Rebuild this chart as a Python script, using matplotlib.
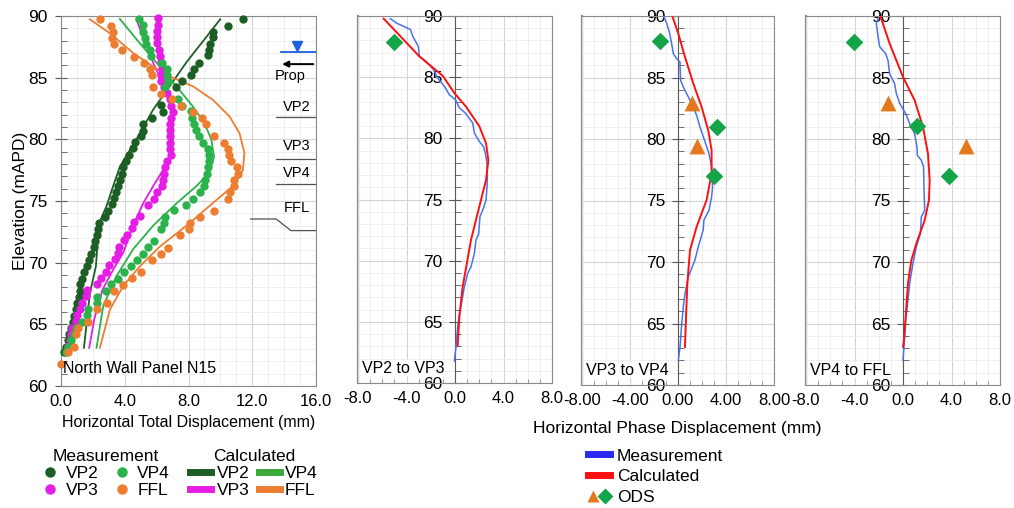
import matplotlib
matplotlib.use('Agg')
import matplotlib.pyplot as plt
from matplotlib.lines import Line2D
from matplotlib.legend_handler import HandlerTuple
from matplotlib.ticker import MultipleLocator, FormatStrFormatter

plt.rcParams['font.family'] = ['Liberation Sans', 'DejaVu Sans']

# ---------------- data: panel 1 (total displacement) ----------------
vp2_meas_x = [11.41, 10.49, 9.55, 9.53, 9.32, 9.28, 9.2, 8.68, 8.32, 8.18, 7.57, 7.2, 6.28, 6.38, 5.74, 5.13,
              5.15, 5.05, 4.65, 4.5, 4.28, 4.05, 3.9, 3.82, 3.7, 3.57, 3.42, 3.32, 3.19, 2.92, 2.73, 2.4,
              2.34, 2.23, 2.13, 2.04, 1.88, 1.73, 1.65, 1.44, 1.31, 1.21, 1.17, 1.1, 1.02, 0.92, 0.83,
              0.73, 0.65, 0.52, 0.46, 0.33, 0.21]
vp2_meas_y = [89.73, 89.2, 88.7, 88.27, 87.76, 87.25, 86.8, 86.2, 85.7, 85.2, 84.7, 84.25, 82.8, 82.25, 81.75,
              81.23, 80.7, 80.23, 79.75, 79.26, 78.75, 78.24, 77.73, 77.2, 76.7, 76.2, 75.73, 75.22, 74.73,
              74.2, 73.7, 73.25, 72.7, 72.25, 71.74, 71.23, 70.74, 70.23, 69.7, 69.25, 68.7, 68.23, 67.7,
              67.2, 66.7, 66.23, 65.7, 65.18, 64.7, 64.18, 63.7, 63.19, 62.75]

vp3_meas_x = [6.11, 6.07, 6.05, 6.03, 6.0, 6.15, 6.22, 6.3, 6.34, 6.26, 6.26, 6.49, 6.68, 6.82, 6.9, 7.03,
              6.9, 6.82, 6.84, 6.84, 6.86, 6.86, 6.93, 6.65, 6.53, 6.45, 6.4, 6.32, 6.05, 5.84, 5.49, 4.94,
              4.55, 4.46, 4.15, 3.94, 3.65, 3.59, 3.38, 3.0, 2.82, 2.5, 2.29, 1.65, 1.54, 1.29, 1.17, 0.98,
              0.94, 0.71, 0.65, 0.54, 0.44]
vp3_meas_y = [89.8, 89.3, 88.8, 88.27, 87.8, 87.25, 86.76, 86.25, 85.74, 85.23, 84.74, 84.23, 83.74, 83.26,
              82.74, 82.23, 81.72, 81.23, 80.72, 80.23, 79.7, 79.21, 78.72, 78.21, 77.73, 77.21, 76.7, 76.19,
              75.7, 75.19, 74.68, 73.8, 73.3, 72.8, 72.28, 71.8, 71.28, 70.77, 70.28, 69.8, 69.28, 68.77,
              68.28, 67.77, 67.26, 66.75, 66.23, 65.75, 65.24, 64.72, 64.2, 63.7, 63.21]

vp4_meas_x = [4.9, 5.15, 5.15, 5.28, 5.32, 5.57, 5.63, 6.36, 6.65, 6.63, 6.7, 6.55, 7.36, 7.6, 8.13, 8.24,
              8.36, 8.45, 8.68, 8.93, 9.24, 9.3, 9.26, 9.2, 9.18, 9.03, 8.95, 8.72, 8.3, 7.82, 7.07, 6.53,
              6.47, 6.3, 5.84, 5.44, 5.15, 4.78, 4.4, 3.98, 3.59, 3.15, 2.82, 2.27, 2.29, 1.69, 1.65, 1.31,
              0.96, 0.79, 0.63, 0.46, 0.33]
vp4_meas_y = [89.76, 89.25, 88.7, 88.25, 87.76, 87.22, 86.74, 86.22, 85.74, 85.22, 84.74, 84.23, 83.25,
              82.74, 82.26, 81.72, 81.23, 80.72, 80.23, 79.72, 79.2, 78.72, 78.21, 77.73, 77.21, 76.7,
              76.21, 75.7, 75.19, 74.7, 74.25, 73.73, 73.2, 72.74, 71.76, 71.25, 70.74, 70.25, 69.71,
              69.23, 68.69, 68.23, 67.7, 67.2, 66.72, 66.23, 65.72, 65.2, 64.72, 64.18, 63.7, 63.19, 62.75]

ffl_meas_x = [2.44, 3.11, 3.25, 3.19, 3.32, 3.8, 4.61, 5.19, 5.57, 5.74, 5.78, 6.26, 6.97, 7.55, 8.28, 8.87,
              9.12, 9.62, 10.24, 10.47, 10.53, 10.66, 11.04, 11.08, 10.87, 10.85, 10.58, 10.47, 9.62, 8.7,
              8.09, 8.01, 7.47, 6.7, 6.28, 5.69, 5.05, 4.48, 3.9, 3.34, 2.86, 2.23, 1.67, 1.06, 0.92, 0.81,
              0.44, 0.0]
ffl_meas_y = [89.76, 89.22, 88.7, 88.25, 87.76, 87.22, 86.68, 86.2, 85.68, 85.2, 84.23, 83.7, 83.23, 82.72,
              82.2, 81.72, 81.23, 80.23, 79.72, 79.2, 78.72, 78.24, 77.73, 77.21, 76.7, 76.21, 75.7, 75.19,
              74.2, 73.73, 73.2, 72.74, 72.25, 71.2, 70.74, 70.25, 69.23, 68.74, 68.2, 67.72, 66.7, 66.21,
              65.2, 64.7, 64.2, 63.2, 62.75, 61.75]

vp2_calc_x = [9.99, 7.9, 5.78, 4.73, 3.7, 3.27, 2.86, 2.44, 2.34, 2.19, 1.81, 1.44]
vp2_calc_y = [89.73, 86.3, 82.4, 80.0, 77.8, 76.2, 74.6, 73.35, 72.4, 69.7, 67.5, 63.1]

vp3_calc_x = [4.73, 5.15, 5.88, 6.4, 6.82, 7.03, 7.03, 6.93, 6.4, 5.78, 5.15, 4.53, 3.9, 3.3, 2.6, 2.1, 1.77]
vp3_calc_y = [89.73, 88.3, 85.9, 84.55, 82.9, 81.3, 80.0, 78.6, 77.5, 76.2, 74.8, 73.0, 70.8, 69.5, 67.8, 65.5, 63.1]

vp4_calc_x = [3.69, 4.94, 6.2, 7.24, 8.28, 9.0, 9.43, 9.6, 9.32, 8.49, 7.24, 5.78, 4.53, 3.48, 2.65, 2.23]
vp4_calc_y = [89.76, 87.8, 85.9, 84.3, 82.66, 81.3, 80.0, 78.6, 77.3, 76.2, 74.8, 73.0, 71.1, 68.9, 66.5, 63.1]

ffl_calc_x = [1.81, 3.07, 4.53, 5.78, 6.82, 8.28, 9.53, 10.58, 11.2, 11.51, 11.41, 10.78, 9.53, 8.07, 6.2,
              4.94, 3.9, 3.07, 2.44]
ffl_calc_y = [89.73, 88.6, 87.0, 85.9, 85.1, 84.3, 83.2, 81.85, 80.5, 78.9, 77.5, 76.2, 74.84, 73.2, 71.3,
              69.7, 68.1, 66.2, 63.1]

# ---------------- data: phase panels ----------------
p1_meas_x = [-5.33, -4.78, -3.68, -3.49, -3.02, -2.94, -2.39, -1.76, -1.43, -0.88, -0.47, 0.03, 0.36, 0.85,
             1.46, 1.6, 2.0, 2.34, 2.5, 2.64, 2.67, 2.64, 2.56, 2.34, 2.06, 1.95, 1.73, 1.6, 1.32, 1.04,
             0.77, 0.58, 0.36, 0.22, 0.08, -0.05]
p1_meas_y = [89.78, 89.4, 88.9, 88.36, 87.5, 86.7, 86.3, 85.6, 84.94, 84.26, 83.57, 83.16, 82.5, 82.07,
             81.25, 80.43, 79.75, 79.34, 78.8, 77.97, 76.87, 76.05, 74.96, 74.28, 73.6, 72.2, 71.68, 70.6,
             69.5, 68.95, 67.85, 66.76, 65.66, 64.57, 62.93, 61.8]
p1_calc_x = [-5.88, -2.94, -1.0, -0.05, 0.9, 2.0, 2.56, 2.75, 2.56, 2.0, 1.32, 0.63, 0.36, 0.22]
p1_calc_y = [89.78, 86.7, 85.1, 83.7, 82.6, 81.0, 79.6, 78.2, 76.6, 74.4, 71.7, 67.85, 65.4, 63.06]
p1_ods_dia_x = [-5.0]
p1_ods_dia_y = [87.9]

p2_meas_x = [-1.16, -0.94, -0.72, -0.53, -0.39, -0.11, 0.17, 0.17, 0.22, 0.44, 0.86, 1.28, 1.55, 1.83, 2.02,
             2.3, 2.58, 2.8, 2.88, 2.8, 2.58, 2.16, 2.1, 1.69, 1.41, 0.86, 0.58, 0.44, 0.31, 0.17, 0.03]
p2_meas_y = [89.9, 89.4, 88.7, 87.75, 86.94, 86.53, 86.26, 85.86, 84.77, 84.23, 83.42, 82.6, 81.93, 80.98,
             80.44, 79.63, 78.82, 77.73, 76.1, 75.3, 74.2, 73.4, 72.6, 71.24, 70.15, 68.8, 67.4, 66.36,
             65.0, 63.1, 62.0]
p2_calc_x = [-0.44, 0.03, 0.58, 1.28, 1.97, 2.52, 2.8, 2.8, 2.38, 1.55, 1.0, 0.78, 0.67, 0.58]
p2_calc_y = [89.9, 88.56, 86.67, 84.5, 82.6, 80.7, 79.1, 77.2, 75.03, 72.86, 70.96, 68.26, 65.55, 63.1]
p2_ods_dia_x = [-1.5, 3.22, 3.02]
p2_ods_dia_y = [87.97, 80.98, 77.0]
p2_ods_tri_x = [1.16, 1.55]
p2_ods_tri_y = [82.9, 79.45]

p3_meas_x = [-2.06, -2.2, -2.06, -1.92, -1.43, -1.24, -1.1, -0.69, -0.55, -0.27, 0.22, 0.55, 0.96, 1.15,
             1.18, 1.51, 1.7, 1.73, 1.79, 1.51, 1.43, 1.1, 0.82, 0.55, 0.41, 0.22, 0.08, 0.0]
p3_meas_y = [89.78, 89.4, 88.3, 87.5, 86.94, 86.4, 85.3, 84.5, 83.7, 82.9, 82.06, 81.25, 80.44, 79.36,
             78.68, 78.27, 77.73, 76.1, 74.2, 73.67, 72.3, 71.24, 69.9, 68.26, 66.9, 65.28, 63.1, 62.0]
p3_calc_x = [-1.84, -1.1, 0.0, 0.96, 1.65, 2.06, 2.2, 2.14, 1.79, 1.1, 0.69, 0.41, 0.22, 0.08, 0.0]
p3_calc_y = [89.92, 87.75, 85.04, 83.15, 80.98, 78.8, 76.65, 75.03, 73.4, 71.5, 70.15, 68.26, 65.55, 63.65, 63.1]
p3_ods_dia_x = [-4.01, 1.18, 3.79]
p3_ods_dia_y = [87.89, 81.04, 76.98]
p3_ods_tri_x = [-1.24, 5.22]
p3_ods_tri_y = [82.9, 79.4]

phase_titles = ['VP2 to VP3', 'VP3 to VP4', 'VP4 to FFL']
legend_labels = ['VP2', 'VP3', 'VP4', 'FFL']

# ---------------- styles ----------------
C_VP2 = '#1d5e24'
C_VP3 = '#e41ee4'
C_VP4 = '#2bb24c'
C_VP4L = '#3aa83a'
C_FFL = '#ed7d31'
C_BLUE = '#4a72f0'
C_RED = '#ff1010'
C_DIA = '#13a548'
C_TRI = '#e4781c'
GMAJ = '#d4d4d4'
GMIN = '#ececec'
SPINE = '#8a8a8a'
AXC = '#5a5a5a'
FS = 11.5
YFS = 12.5

W, H = 1014, 508
fig = plt.figure(figsize=(W / 100, H / 100), dpi=100)


def rect(l, r, t, b):
    return [l / W, 1 - b / H, (r - l) / W, (b - t) / H]


def style_grid(ax):
    ax.set_axisbelow(True)
    ax.grid(True, which='major', color=GMAJ, lw=0.8)
    ax.grid(True, which='minor', color=GMIN, lw=0.6)


# ---------------- panel 1 ----------------
ax1 = fig.add_axes(rect(61, 316, 16, 386))
ax1.set_xlim(0, 16)
ax1.set_ylim(60, 90)
ax1.xaxis.set_major_locator(MultipleLocator(4))
ax1.xaxis.set_minor_locator(MultipleLocator(1))
ax1.yaxis.set_major_locator(MultipleLocator(5))
ax1.yaxis.set_minor_locator(MultipleLocator(1))
ax1.xaxis.set_major_formatter(FormatStrFormatter('%.1f'))
style_grid(ax1)
for s in ax1.spines.values():
    s.set_color(SPINE)
ax1.tick_params(axis='x', which='both', length=0, labelsize=12, pad=6)
ax1.tick_params(axis='y', which='major', direction='inout', length=9, color=AXC, labelsize=YFS, pad=5)
ax1.tick_params(axis='y', which='minor', direction='in', length=4, color=AXC)
ax1.set_ylabel('Elevation (mAPD)', fontsize=12.5, labelpad=0)
ax1.set_xlabel('Horizontal Total Displacement (mm)', fontsize=FS, labelpad=4)

ms = 36
ax1.plot(vp2_calc_x, vp2_calc_y, color=C_VP2, lw=1.3, zorder=3)
ax1.plot(vp3_calc_x, vp3_calc_y, color=C_VP3, lw=1.3, zorder=3)
ax1.plot(vp4_calc_x, vp4_calc_y, color=C_VP4, lw=1.3, zorder=3)
ax1.plot(ffl_calc_x, ffl_calc_y, color=C_FFL, lw=1.3, zorder=3)
ax1.scatter(vp2_meas_x, vp2_meas_y, s=ms, color=C_VP2, lw=0, zorder=4, clip_on=False)
ax1.scatter(vp3_meas_x, vp3_meas_y, s=ms, color=C_VP3, lw=0, zorder=4, clip_on=False)
ax1.scatter(vp4_meas_x, vp4_meas_y, s=ms, color=C_VP4, lw=0, zorder=4, clip_on=False)
ax1.scatter(ffl_meas_x, ffl_meas_y, s=ms, color=C_FFL, lw=0, zorder=4, clip_on=False)

ax1.text(0.15, 61.4, 'North Wall Panel N15', fontsize=FS, ha='left', va='center', zorder=5)

# level annotations on the right of panel 1
ax1.plot([13.8, 16], [87.08, 87.08], color='#1f5fe0', lw=1.3, zorder=5)
ax1.plot([14.83], [87.6], marker='v', color='#1f5fe0', ms=7, zorder=5)
ax1.annotate('', xy=(13.7, 86.1), xytext=(16, 86.1),
             arrowprops=dict(arrowstyle='-|>', color='black', lw=1.4, mutation_scale=9), zorder=5)
ax1.text(14.4, 85.15, 'Prop', fontsize=10.5, ha='center', va='center')
for lbl, ty, ly in [('VP2', 82.65, 81.83), ('VP3', 79.45, 78.43), ('VP4', 77.3, 76.38), ('FFL', 74.45, None)]:
    ax1.text(14.8, ty, lbl, fontsize=10.5, ha='center', va='center')
    if ly is not None:
        ax1.plot([13.5, 16], [ly, ly], color='#505050', lw=0.9)
ax1.plot([11.9, 13.5, 14.43, 16], [73.54, 73.54, 72.6, 72.6], color='#505050', lw=0.9)

# ---------------- phase panels ----------------
phase_rects = [rect(358, 552, 16, 383), rect(582, 774, 16, 385), rect(806, 1000, 16, 385)]
phase_fmt = ['%.1f', '%.2f', '%.1f']
meas_x = [p1_meas_x, p2_meas_x, p3_meas_x]
meas_y = [p1_meas_y, p2_meas_y, p3_meas_y]
calc_x = [p1_calc_x, p2_calc_x, p3_calc_x]
calc_y = [p1_calc_y, p2_calc_y, p3_calc_y]
dia_x = [p1_ods_dia_x, p2_ods_dia_x, p3_ods_dia_x]
dia_y = [p1_ods_dia_y, p2_ods_dia_y, p3_ods_dia_y]
tri_x = [[], p2_ods_tri_x, p3_ods_tri_x]
tri_y = [[], p2_ods_tri_y, p3_ods_tri_y]

for i in range(3):
    ax = fig.add_axes(phase_rects[i])
    ax.set_xlim(-8, 8)
    ax.set_ylim(60, 90)
    ax.xaxis.set_major_locator(MultipleLocator(4))
    ax.xaxis.set_minor_locator(MultipleLocator(1))
    ax.yaxis.set_major_locator(MultipleLocator(5))
    ax.yaxis.set_minor_locator(MultipleLocator(1))
    ax.xaxis.set_major_formatter(FormatStrFormatter(phase_fmt[i]))
    style_grid(ax)
    for s in ax.spines.values():
        s.set_color(SPINE)
    ax.spines['left'].set_position(('data', 0))
    ax.spines['left'].set_color(AXC)
    ax.axvline(-8, color=SPINE, lw=1.6, clip_on=False, zorder=0.5)
    ax.tick_params(axis='x', which='major', length=0, labelsize=12, pad=6)
    ax.tick_params(axis='x', which='minor', direction='in', length=3, color=SPINE)
    ax.tick_params(axis='y', which='major', direction='inout', length=8, color=AXC, labelsize=YFS, pad=5)
    ax.tick_params(axis='y', which='minor', direction='in', length=4, color=AXC)
    ax.plot(meas_x[i], meas_y[i], color=C_BLUE, lw=1.1, zorder=3)
    ax.plot(calc_x[i], calc_y[i], color=C_RED, lw=1.4, zorder=3)
    ax.scatter(dia_x[i], dia_y[i], marker='D', s=80, color=C_DIA, lw=0, zorder=4)
    if tri_x[i]:
        ax.scatter(tri_x[i], tri_y[i], marker='^', s=130, color=C_TRI, lw=0, zorder=4)
    ax.text(-7.7, 61.2, phase_titles[i], fontsize=FS, ha='left', va='center', zorder=5,
            bbox=dict(facecolor='white', edgecolor='none', pad=0.5))

fig.text(677 / W, 1 - 428 / H, 'Horizontal Phase Displacement (mm)', fontsize=12.5,
         ha='center', va='center')

# ---------------- legends ----------------
LFS = 12.5
meas_handles = [Line2D([], [], ls='none', marker='o', ms=7.5, color=c, mec='none')
                for c in [C_VP2, C_VP3, C_VP4, C_FFL]]
fig.legend(meas_handles, legend_labels, ncol=2, title='Measurement',
           loc='upper center', bbox_to_anchor=(106 / W, 1 - 439 / H), frameon=False,
           fontsize=LFS, title_fontsize=LFS, handlelength=0.9, handletextpad=0.45,
           columnspacing=0.9, labelspacing=0.1, borderpad=0.1)
calc_handles = [Line2D([], [], color=c, lw=5) for c in [C_VP2, C_VP3, C_VP4L, C_FFL]]
fig.legend(calc_handles, legend_labels, ncol=2, title='Calculated',
           loc='upper center', bbox_to_anchor=(254 / W, 1 - 439 / H), frameon=False,
           fontsize=LFS, title_fontsize=LFS, handlelength=1.2, handletextpad=0.3,
           columnspacing=0.55, labelspacing=0.1, borderpad=0.1)

ph_handles = [Line2D([], [], color='#2a2af0', lw=5), Line2D([], [], color=C_RED, lw=5),
              (Line2D([], [], ls='none', marker='^', ms=9, color=C_TRI, mec='none'),
               Line2D([], [], ls='none', marker='D', ms=8, color=C_DIA, mec='none'))]
fig.legend(ph_handles, ['Measurement', 'Calculated', 'ODS'], loc='upper left',
           bbox_to_anchor=(578 / W, 1 - 438 / H), frameon=False, fontsize=LFS,
           handlelength=1.25, handletextpad=0.4, labelspacing=0.32, borderpad=0.1,
           handler_map={tuple: HandlerTuple(ndivide=None, pad=0.15)})

fig.savefig('out.png', dpi=100)
